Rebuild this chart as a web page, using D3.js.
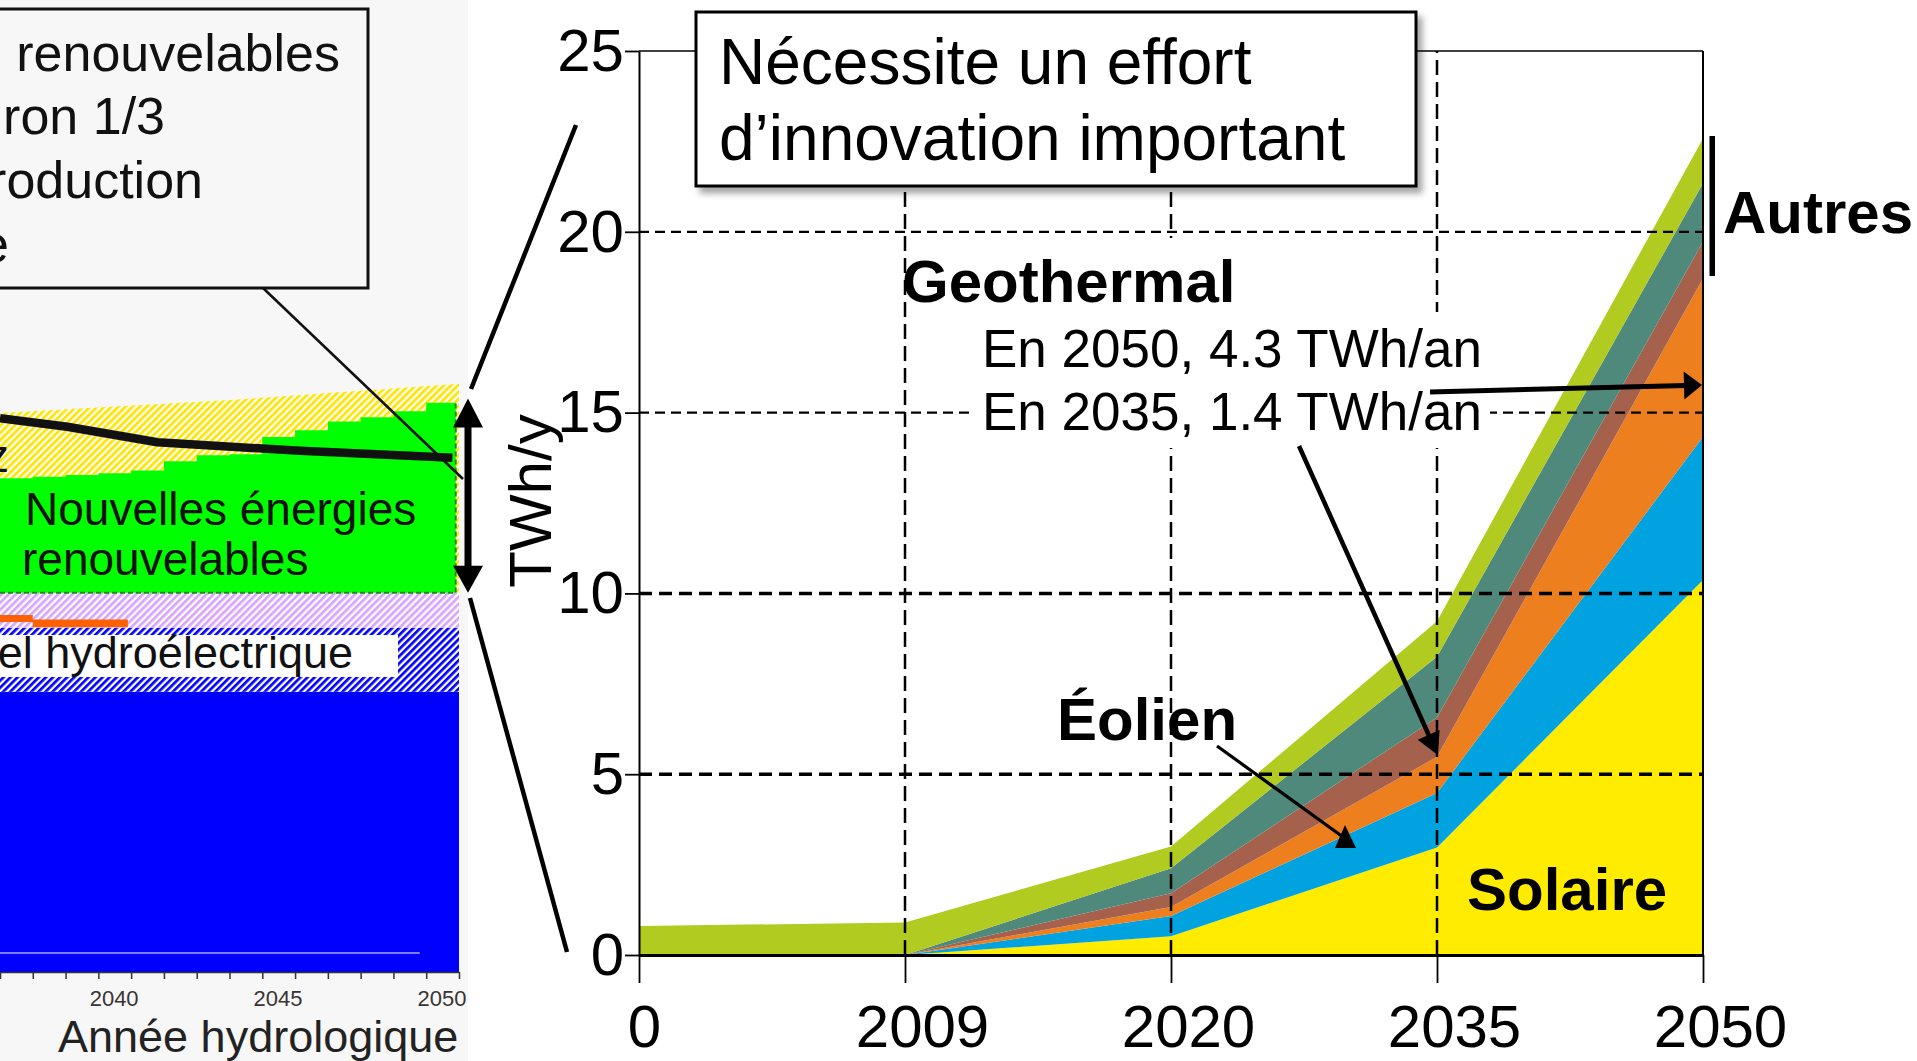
<!DOCTYPE html>
<html><head><meta charset="utf-8">
<script src="https://cdn.jsdelivr.net/npm/d3@7"></script>
<style>
html,body{margin:0;padding:0;background:#fff;overflow:hidden}
svg{display:block}
text{font-family:"Liberation Sans",Arial,Helvetica,sans-serif}
</style>
</head><body>
<svg id="c" width="1917" height="1061"></svg>
<script>
// ---------- Main chart data ----------
const years = ["0", "2009", "2020", "2035", "2050"];
const solaire    = [0, 0, 0.52, 2.97, 10.37];
const eolien     = [0, 0, 0.56, 1.51, 3.96];
const geothermie = [0, 0, 0.25, 1.00, 4.38];
const autresBrun = [0, 0, 0.38, 1.09, 1.02];
const autresVert = [0, 0, 0.69, 1.68, 1.61];
const autresLime = [0.80, 0.90, 0.60, 0.98, 1.24];
const yTicks = [0, 5, 10, 15, 20, 25];
const gridMajor = [5, 10];
const gridMinor = [15, 20];
const gridYears = ["2009", "2020", "2035"];
const seriesKeys = ["solaire", "eolien", "geothermie", "brun", "vert", "lime"];
const seriesColors = ["#FFEC00", "#00A2E0", "#EE7F1E", "#A5614C", "#4E897C", "#B1CB21"];

// ---------- Inset (left picture) data ----------
const insetTickYears = [2036,2037,2038,2039,2040,2041,2042,2043,2044,2045,2046,2047,2048,2049,2050];
const insetLabelYears = [2040, 2045, 2050];
const insetGreenYears = [2036,2037,2038,2039,2040,2041,2042,2043,2044,2045,2046,2047,2048,2049,2049.9];
const insetGreenTop   = [57.4,57.6,57.8,58.0,58.3,59.4,60.1,60.2,62.2,63.0,64.0,64.5,65.2,66.2,66.2];
const insetHydroTop = 32.6;
const insetBlueHatchTop = 40.0;
const insetLilacTop = 44.1;
const insetYellowYears = [2036, 2043, 2050];
const insetYellowTop   = [65.0, 66.5, 68.4];
const insetBlackYears = [2036, 2038.05, 2040.8, 2045.15, 2049.8];
const insetBlackVals  = [64.4, 63.4, 61.6, 60.6, 59.8];
const insetOrangeYears = [2036, 2037, 2039.9];
const insetOrangeTop   = [41.5, 41.0, 41.0];
const insetOrangeBot   = [40.7, 40.1, 40.1];
const insetLavender = 2.2;

const svg = d3.select("#c");
const defs = svg.append("defs");
function hatch(id, color) {
  const p = defs.append("pattern").attr("id", id).attr("patternUnits", "userSpaceOnUse")
    .attr("width", 5).attr("height", 5).attr("patternTransform", "rotate(45)");
  p.append("rect").attr("width", 5).attr("height", 5).attr("fill", "#fff");
  p.append("rect").attr("width", 2.7).attr("height", 5).attr("fill", color);
}
hatch("hY", "#FFE400");
hatch("hL", "#D7A3FF");
hatch("hB", "#0000FF");
defs.append("clipPath").attr("id", "insetClip").append("rect")
  .attr("x", 0).attr("y", 0).attr("width", 468).attr("height", 1061);
const filt = defs.append("filter").attr("id", "shadow")
  .attr("x", "-5%").attr("y", "-10%").attr("width", "115%").attr("height", "130%");
filt.append("feDropShadow").attr("dx", 5).attr("dy", 6).attr("stdDeviation", 3)
  .attr("flood-color", "#000").attr("flood-opacity", 0.35);

// =============== INSET ===============
const ix = d3.scaleLinear().domain([2036, 2050]).range([0, 459]);
const iy = d3.scaleLinear().domain([0, 70]).range([972, 370]);
const ig = svg.append("g").attr("clip-path", "url(#insetClip)");
ig.append("rect").attr("x", 0).attr("y", 0).attr("width", 468).attr("height", 1061).attr("fill", "#f7f7f7");

const band = (lo, hi) => d3.area().x(d => ix(d)).y0(iy(lo)).y1(iy(hi))([2036, 2050]);
ig.append("path").attr("d", band(0, insetHydroTop)).attr("fill", "#0000FF");
ig.append("path").attr("d", band(insetHydroTop, insetBlueHatchTop)).attr("fill", "url(#hB)");
ig.append("path").attr("d", band(insetBlueHatchTop, insetLilacTop)).attr("fill", "url(#hL)");
ig.append("path")
  .attr("d", d3.area().curve(d3.curveStepAfter)
    .x((d, i) => ix(insetOrangeYears[i])).y0((d, i) => iy(insetOrangeBot[i])).y1((d, i) => iy(insetOrangeTop[i]))(insetOrangeYears))
  .attr("fill", "#FF6000");
ig.append("path")
  .attr("d", d3.area().x((d, i) => ix(insetYellowYears[i])).y0(iy(insetLilacTop)).y1((d, i) => iy(insetYellowTop[i]))(insetYellowYears))
  .attr("fill", "url(#hY)");
ig.append("path")
  .attr("d", d3.area().curve(d3.curveStepAfter).x((d, i) => ix(insetGreenYears[i])).y0(iy(insetLilacTop)).y1((d, i) => iy(insetGreenTop[i]))(insetGreenYears))
  .attr("fill", "#00FF00");
ig.append("path")
  .attr("d", d3.line()([[ix(2036), iy(insetLilacTop)], [ix(2049.9), iy(insetLilacTop)], [ix(2049.9), iy(insetGreenTop[13])]]))
  .attr("fill", "none").attr("stroke", "#1f8a1f").attr("stroke-width", 2).attr("stroke-dasharray", "5,3");
ig.append("path")
  .attr("d", d3.line().x((d, i) => ix(insetBlackYears[i])).y((d, i) => iy(insetBlackVals[i]))(insetBlackYears))
  .attr("fill", "none").attr("stroke", "#111").attr("stroke-width", 8.5).attr("stroke-linejoin", "round");
ig.append("line").attr("x1", ix(2036)).attr("x2", ix(2048.8)).attr("y1", iy(insetLavender)).attr("y2", iy(insetLavender))
  .attr("stroke", "#a9a9ff").attr("stroke-width", 1.5);

// label box for hydro
ig.append("rect").attr("x", -5).attr("y", 635).attr("width", 403).attr("height", 42).attr("fill", "#fff");
ig.append("text").attr("x", 353).attr("y", 668).attr("text-anchor", "end").attr("font-size", 45).attr("fill", "#111").text("el hydroélectrique");
ig.append("text").attr("x", 25).attr("y", 525).attr("font-size", 46).attr("fill", "#111").text("Nouvelles énergies");
ig.append("text").attr("x", 22).attr("y", 575).attr("font-size", 46).attr("fill", "#111").text("renouvelables");
ig.append("text").attr("x", 9).attr("y", 472).attr("text-anchor", "end").attr("font-size", 46).attr("fill", "#111").text("z");

// inset axis
const iax = ig.append("g").attr("transform", `translate(0,${iy(0)})`)
  .call(d3.axisBottom(ix).tickValues(insetTickYears).tickSize(7).tickSizeOuter(0).tickFormat(""));
iax.selectAll("text").remove();
iax.select(".domain").attr("stroke", "#333").attr("stroke-width", 1.5);
iax.selectAll(".tick line").attr("stroke", "#333").attr("stroke-width", 1.5);
ig.selectAll(".ilab").data(insetLabelYears).join("text").attr("class", "ilab")
  .attr("x", d => ix(d) - 17).attr("y", 1006).attr("text-anchor", "middle")
  .attr("font-size", 22).attr("fill", "#3a3434").text(d => d);
ig.append("text").attr("x", 58).attr("y", 1052).attr("font-size", 45).attr("fill", "#222").text("Année hydrologique");

// callout box
ig.append("rect").attr("x", -6).attr("y", 9).attr("width", 374).attr("height", 279)
  .attr("fill", "#f7f7f7").attr("stroke", "#111").attr("stroke-width", 3);
const callLines = [["renouvelables", 340, 71], ["ron 1/3", 165, 134], ["roduction", 203, 198], ["e", 9, 262]];
ig.selectAll(".cl").data(callLines).join("text").attr("class", "cl")
  .attr("x", d => d[1]).attr("y", d => d[2]).attr("text-anchor", "end")
  .attr("font-size", 52).attr("fill", "#111").text(d => d[0]);
ig.append("line").attr("x1", 263).attr("y1", 288).attr("x2", 463).attr("y2", 479)
  .attr("stroke", "#111").attr("stroke-width", 2.5);

// zoom-out lines
svg.append("line").attr("x1", 471).attr("y1", 389).attr("x2", 576).attr("y2", 125)
  .attr("stroke", "#000").attr("stroke-width", 4.5);
svg.append("line").attr("x1", 470).attr("y1", 598).attr("x2", 567).attr("y2", 952)
  .attr("stroke", "#000").attr("stroke-width", 4.5);

// double arrow on inset
{
  const ax = 468, top = iy(66.7), bot = iy(insetLilacTop);
  svg.append("rect").attr("x", ax - 3.5).attr("y", top + 25).attr("width", 7).attr("height", bot - top - 50).attr("fill", "#000");
  svg.append("path").attr("d", d3.line()([[ax, top], [ax - 15, top + 29], [ax + 15, top + 29]]) + "Z").attr("fill", "#000");
  svg.append("path").attr("d", d3.line()([[ax, bot], [ax - 15, bot - 27], [ax + 15, bot - 27]]) + "Z").attr("fill", "#000");
}

// =============== MAIN CHART ===============
const x = d3.scalePoint().domain(years).range([639, 1703]);
const y = d3.scaleLinear().domain([0, 25]).range([955, 51]);
const table = years.map((yr, i) => ({
  year: yr, solaire: solaire[i], eolien: eolien[i], geothermie: geothermie[i],
  brun: autresBrun[i], vert: autresVert[i], lime: autresLime[i]
}));
const stacked = d3.stack().keys(seriesKeys)(table);
const area = d3.area().x(d => x(d.data.year)).y0(d => y(d[0])).y1(d => y(d[1]));
const mg = svg.append("g");
mg.selectAll(".layer").data(stacked).join("path").attr("class", "layer")
  .attr("d", area).attr("fill", (d, i) => seriesColors[i]);

// gridlines
mg.selectAll(".gmaj").data(gridMajor).join("line").attr("class", "gmaj")
  .attr("x1", x("0")).attr("x2", x("2050")).attr("y1", d => y(d)).attr("y2", d => y(d))
  .attr("stroke", "#000").attr("stroke-width", 3.5).attr("stroke-dasharray", "13,7");
mg.selectAll(".gmin").data(gridMinor).join("line").attr("class", "gmin")
  .attr("x1", x("0")).attr("x2", x("2050")).attr("y1", d => y(d)).attr("y2", d => y(d))
  .attr("stroke", "#000").attr("stroke-width", 2.3).attr("stroke-dasharray", "10,6");
mg.selectAll(".gv").data(gridYears).join("line").attr("class", "gv")
  .attr("x1", d => x(d)).attr("x2", d => x(d)).attr("y1", y(0)).attr("y2", y(25))
  .attr("stroke", "#000").attr("stroke-width", 2.5).attr("stroke-dasharray", "15,7");

// frame top/right
mg.append("line").attr("x1", x("0")).attr("x2", x("2050")).attr("y1", y(25)).attr("y2", y(25))
  .attr("stroke", "#000").attr("stroke-width", 1.6);
mg.append("line").attr("x1", x("2050")).attr("x2", x("2050")).attr("y1", y(0)).attr("y2", y(25))
  .attr("stroke", "#000").attr("stroke-width", 2);

// axes
const yAx = mg.append("g").attr("transform", `translate(${x("0")},0)`)
  .call(d3.axisLeft(y).tickValues(yTicks).tickSize(14).tickSizeOuter(0).tickPadding(1));
yAx.select(".domain").attr("stroke-width", 2);
yAx.selectAll(".tick line").attr("stroke-width", 1.8);
yAx.selectAll("text").attr("font-size", 60).attr("fill", "#000").attr("font-family", '"Liberation Sans",Arial,sans-serif');
const xAx = mg.append("g").attr("transform", `translate(0,${y(0)})`)
  .call(d3.axisBottom(x).tickSize(28).tickSizeOuter(0).tickPadding(21));
xAx.select(".domain").attr("stroke-width", 3);
xAx.selectAll(".tick line").attr("stroke-width", 1.8);
xAx.selectAll("text").attr("font-size", 60).attr("fill", "#000")
  .attr("dx", d => d === "0" ? 5 : 17).attr("font-family", '"Liberation Sans",Arial,sans-serif');

mg.append("text").attr("transform", "translate(551,501) rotate(-90)").attr("text-anchor", "middle")
  .attr("font-size", 60).attr("fill", "#000").text("TWh/y");

// text backgrounds
mg.append("rect").attr("x", 908).attr("y", 238).attr("width", 335).attr("height", 74).attr("fill", "#fff");
mg.append("rect").attr("x", 975).attr("y", 312).attr("width", 515).attr("height", 136).attr("fill", "#fff");

mg.append("text").attr("x", 902).attr("y", 302).attr("font-size", 60).attr("font-weight", "bold").text("Geothermal");
mg.append("text").attr("x", 982).attr("y", 367).attr("font-size", 53).text("En 2050, 4.3 TWh/an");
mg.append("text").attr("x", 982).attr("y", 430).attr("font-size", 53).text("En 2035, 1.4 TWh/an");
mg.append("text").attr("x", 1057).attr("y", 740).attr("font-size", 60).attr("font-weight", "bold").text("Éolien");
mg.append("text").attr("x", 1467).attr("y", 910).attr("font-size", 60).attr("font-weight", "bold").text("Solaire");
mg.append("text").attr("x", 1723).attr("y", 233).attr("font-size", 60).attr("font-weight", "bold").text("Autres");
mg.append("rect").attr("x", 1709.5).attr("y", 136).attr("width", 5.5).attr("height", 140).attr("fill", "#000");

// arrows
function arrow(x1, y1, x2, y2, w, hl, hw) {
  const dx = x2 - x1, dy = y2 - y1, L = Math.hypot(dx, dy), ux = dx / L, uy = dy / L;
  const bx = x2 - ux * hl, by = y2 - uy * hl;
  mg.append("line").attr("x1", x1).attr("y1", y1).attr("x2", bx + ux * 2).attr("y2", by + uy * 2)
    .attr("stroke", "#000").attr("stroke-width", w);
  mg.append("path").attr("d", d3.line()([[x2, y2], [bx - uy * hw, by + ux * hw], [bx + uy * hw, by - ux * hw]]) + "Z")
    .attr("fill", "#000");
}
arrow(1299, 446, 1437.7, 755, 4.5, 22, 12);
arrow(1430, 392, 1702, 385, 5, 18, 14);
mg.append("line").attr("x1", 1217).attr("y1", 746).attr("x2", 1343).attr("y2", 837)
  .attr("stroke", "#000").attr("stroke-width", 3.2);
mg.append("path").attr("d", d3.line()([[1345, 825], [1335, 848], [1356, 848]]) + "Z").attr("fill", "#000");

// title box
mg.append("rect").attr("x", 696).attr("y", 12).attr("width", 720).attr("height", 174)
  .attr("fill", "#fff").attr("stroke", "#000").attr("stroke-width", 3).attr("filter", "url(#shadow)");
mg.append("text").attr("x", 719).attr("y", 84).attr("font-size", 64).text("Nécessite un effort");
mg.append("text").attr("x", 719).attr("y", 160).attr("font-size", 64).text("d’innovation important");
</script>
</body></html>
